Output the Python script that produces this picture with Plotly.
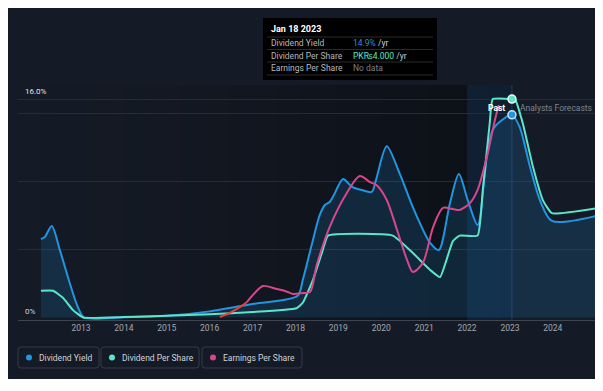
import plotly.graph_objects as go
import pandas as pd

# ---------------- data ----------------
dy_dates = ["2012-01-26", "2012-02-28", "2012-04-27", "2012-07-05", "2012-09-27", "2012-12-05",
            "2013-01-26", "2014-01-01", "2015-01-01", "2016-01-01", "2017-01-01", "2018-01-19",
            "2018-03-04", "2018-05-19", "2018-07-27", "2018-09-09", "2018-10-19", "2018-11-24",
            "2019-02-10", "2019-04-27", "2019-07-20", "2019-10-12", "2019-11-17", "2020-02-17",
            "2020-06-10", "2020-09-27", "2021-02-21", "2021-05-05", "2021-08-08", "2021-10-23",
            "2022-01-08", "2022-04-01", "2022-06-18", "2022-08-08", "2022-10-23", "2023-01-18",
            "2023-03-25", "2023-06-21", "2023-09-13", "2023-12-24", "2025-01-01"]
dy_values = [5.77, 5.92, 6.73, 4.96, 2.54, 0.77,
             0.0, 0.02, 0.12, 0.45, 1.0, 1.6,
             2.76, 5.33, 7.54, 8.27, 8.49, 9.0,
             10.18, 9.6, 9.37, 9.23, 10.1, 12.6,
             10.5, 8.1, 5.48, 4.96, 8.4, 10.55,
             8.6, 6.8, 11.8, 13.8, 14.5, 14.9,
             14.0, 11.07, 8.64, 7.1, 7.46]

dps_dates = ["2012-01-26", "2012-05-08", "2012-07-31", "2012-10-23", "2013-01-19", "2014-01-01",
             "2015-01-01", "2016-01-01", "2017-01-01", "2018-01-10", "2018-03-04", "2018-05-30",
             "2018-08-22", "2018-10-05", "2020-04-08", "2020-09-27", "2021-02-21", "2021-05-16",
             "2021-09-02", "2021-10-30", "2022-04-01", "2022-05-15", "2022-07-13", "2022-08-08",
             "2023-01-18", "2023-02-13", "2023-04-20", "2023-07-16", "2023-10-08", "2023-12-24",
             "2025-01-01"]
dps_values = [0.49, 0.49, 0.36, 0.14, 0.0, 0.01,
              0.03, 0.06, 0.10, 0.17, 0.27, 0.69,
              1.24, 1.5, 1.5, 1.18, 0.87, 0.74,
              1.4, 1.5, 1.5, 2.34, 3.56, 4.0,
              4.0, 4.0, 3.56, 2.76, 2.15, 1.91,
              2.0]

eps_dates = ["2016-03-28", "2016-06-21", "2016-09-17", "2016-11-14", "2017-01-04", "2017-03-29",
             "2017-07-27", "2017-10-05", "2017-12-10", "2018-03-04", "2018-05-05", "2018-07-01",
             "2018-10-19", "2019-03-14", "2019-07-02", "2019-09-28", "2019-11-24", "2020-02-17",
             "2020-05-15", "2020-08-08", "2020-09-27", "2020-12-20", "2021-03-18", "2021-06-10",
             "2021-09-02", "2021-10-30", "2022-01-26", "2022-04-01", "2022-06-18", "2022-08-26",
             "2022-09-28"]
eps_values = [0.03, 0.25, 0.58, 0.85, 1.24, 1.73,
              1.57, 1.46, 1.29, 1.35, 1.40, 2.88,
              4.97, 6.84, 7.77, 7.44, 7.27, 6.46,
              4.81, 3.16, 2.5, 2.99, 4.97, 6.02,
              5.96, 5.91, 6.29, 7.01, 8.82, 10.85,
              11.68]
eps_red_points = 4  # early low-EPS stretch drawn in red

year_ticks = [str(y) for y in range(2013, 2025)]
today = "2023-01-18"
past_start = "2022-01-01"
tooltip_title = "Jan 18 2023"
tooltip_rows = [("Dividend Yield", "14.9%", " /yr"),
                ("Dividend Per Share", "PK₨4.000", " /yr"),
                ("Earnings Per Share", None, "No data")]
legend_items = ["Dividend Yield", "Dividend Per Share", "Earnings Per Share"]

# ---------------- style ----------------
BLUE = "#2394df"
TEAL = "#5ce5c8"
PINK = "#d6478e"
RED = "#ef3b3b"
CARD = "#151b26"
FONT = "Roboto"

# page has an 8px body margin: figure origin sits at screen (8, 8)
OFF = 8
W, H = 595, 383
# plot area in screen pixels
SX0, SX1, SY0, SY1 = 18, 597, 85, 320
L, R, T, B = SX0 - OFF, W - (SX1 - OFF), SY0 - OFF, H - (SY1 - OFF)
PW, PH = W - L - R, H - T - B


def px_x(sx):
    return (sx - SX0) / PW


def px_y(sy):
    return (SY1 - sy) / PH


# y scales: value 0 at screen pixel 317.5
zero_px = 317.5
dy_ppu = 13.6      # px per % yield
dps_ppu = 54.6     # px per PKR dividend
eps_ppu = 18.2     # px per PKR earnings


def yrange(ppu):
    return [-(SY1 - zero_px) / ppu, (zero_px - SY0) / ppu]


def rrect(x0, y0, x1, y1, r):
    pts = [("M", x0 + r, y0), ("L", x1 - r, y0), ("Q", x1, y0, x1, y0 + r), ("L", x1, y1 - r),
           ("Q", x1, y1, x1 - r, y1), ("L", x0 + r, y1), ("Q", x0, y1, x0, y1 - r),
           ("L", x0, y0 + r), ("Q", x0, y0, x0 + r, y0)]
    s = ""
    for p in pts:
        coords = p[1:]
        parts = [f"{px_x(coords[i]):.5f},{px_y(coords[i + 1]):.5f}" for i in range(0, len(coords), 2)]
        s += p[0] + " " + " ".join(parts) + " "
    return s + "Z"


fig = go.Figure()

fig.add_trace(go.Scatter(x=dy_dates, y=dy_values, mode="lines",
                         line=dict(color=BLUE, width=2, shape="spline", smoothing=0.8),
                         fill="tozeroy", fillcolor="rgba(35,148,223,0.17)",
                         hoverinfo="skip", yaxis="y"))
fig.add_trace(go.Scatter(x=dps_dates, y=dps_values, mode="lines",
                         line=dict(color=TEAL, width=2, shape="spline", smoothing=0.4),
                         hoverinfo="skip", yaxis="y2"))
fig.add_trace(go.Scatter(x=eps_dates[:eps_red_points], y=eps_values[:eps_red_points], mode="lines",
                         line=dict(color=RED, width=2, shape="spline", smoothing=0.8),
                         hoverinfo="skip", yaxis="y3"))
fig.add_trace(go.Scatter(x=eps_dates[eps_red_points - 1:], y=eps_values[eps_red_points - 1:], mode="lines",
                         line=dict(color=PINK, width=2, shape="spline", smoothing=0.8),
                         hoverinfo="skip", yaxis="y3"))
i_dy = dy_dates.index(today)
i_dps = dps_dates.index(today)
fig.add_trace(go.Scatter(x=[today], y=[dy_values[i_dy]], mode="markers",
                         marker=dict(color=BLUE, size=8, line=dict(color="#bfe2ff", width=1.5)),
                         hoverinfo="skip", yaxis="y"))
fig.add_trace(go.Scatter(x=[today], y=[dps_values[i_dps]], mode="markers",
                         marker=dict(color=TEAL, size=8, line=dict(color="#e6fff9", width=1.5)),
                         hoverinfo="skip", yaxis="y2"))

shapes = []
shapes.append(dict(type="rect", xref="paper", yref="paper", x0=px_x(OFF - 2), x1=px_x(601),
                   y0=px_y(379), y1=px_y(OFF - 2), fillcolor=CARD, line=dict(width=0), layer="below"))
n = 40
edges = pd.date_range(dy_dates[0], today, periods=n + 1)
for k in range(n):
    op = 0.42 * ((k + 0.5) / n) ** 1.2
    shapes.append(dict(type="rect", xref="x", yref="paper",
                       x0=edges[k].strftime("%Y-%m-%d"), x1=edges[k + 1].strftime("%Y-%m-%d"),
                       y0=0, y1=1, fillcolor=f"rgba(0,0,0,{op:.3f})", line=dict(width=0), layer="below"))
shapes.append(dict(type="rect", xref="x", yref="paper", x0=past_start, x1=today, y0=0, y1=1,
                   fillcolor="rgba(40,115,185,0.16)", line=dict(width=0), layer="below"))
shapes.append(dict(type="line", xref="x", yref="paper", x0=today, x1=today, y0=0, y1=1,
                   line=dict(color="rgba(70,120,170,0.35)", width=1), layer="below"))

boxes = [(18, 99), (101, 199), (202, 302)]
leg_colors = [BLUE, TEAL, PINK]
annotations = []
for (bx0, bx1), col, name in zip(boxes, leg_colors, legend_items):
    shapes.append(dict(type="path", xref="paper", yref="paper", path=rrect(bx0, 347, bx1, 368, 3),
                       fillcolor=CARD, line=dict(color="#363c47", width=1), layer="below"))
    cx, cy = bx0 + 11, 357.5
    shapes.append(dict(type="circle", xref="paper", yref="paper", x0=px_x(cx - 3), x1=px_x(cx + 3),
                       y0=px_y(cy + 3), y1=px_y(cy - 3), fillcolor=col, line=dict(width=0), layer="below"))
    annotations.append(dict(text=name, xref="paper", yref="paper", x=px_x(bx0 + 19), y=px_y(cy),
                            xanchor="left", yanchor="middle", showarrow=False,
                            font=dict(family=FONT, size=8.5, color="#cfd2d7")))

shapes.append(dict(type="rect", xref="paper", yref="paper", x0=px_x(263), x1=px_x(437),
                   y0=px_y(80), y1=px_y(18), fillcolor="#000000", line=dict(width=0), layer="below"))
for ly in [37, 49.5, 62, 75]:
    shapes.append(dict(type="line", xref="paper", yref="paper", x0=px_x(267), x1=px_x(433),
                       y0=px_y(ly), y1=px_y(ly), line=dict(color="#2b2b2b", width=1), layer="below"))
annotations.append(dict(text="<b>" + tooltip_title + "</b>", xref="paper", yref="paper",
                        x=px_x(269), y=px_y(29), xanchor="left", yanchor="middle", showarrow=False,
                        font=dict(family=FONT, size=9, color="#ffffff")))
val_colors = [BLUE, TEAL, None]
for j, ((lab, val, suf), vc) in enumerate(zip(tooltip_rows, val_colors)):
    ry = 43.3 + j * 12.5
    annotations.append(dict(text=lab, xref="paper", yref="paper", x=px_x(269), y=px_y(ry),
                            xanchor="left", yanchor="middle", showarrow=False,
                            font=dict(family=FONT, size=8.5, color="#b4b8be")))
    if val is not None:
        txt = f"<span style='color:{vc}'>{val}</span><span style='color:#c9ccd1'>{suf}</span>"
    else:
        txt = f"<span style='color:#7c8189'>{suf}</span>"
    annotations.append(dict(text=txt, xref="paper", yref="paper", x=px_x(351), y=px_y(ry),
                            xanchor="left", yanchor="middle", showarrow=False,
                            font=dict(family=FONT, size=8.5, color="#c9ccd1")))

annotations.append(dict(text="16.0%", xref="paper", yref="paper", x=px_x(23), y=px_y(91),
                        xanchor="left", yanchor="middle", showarrow=False,
                        font=dict(family=FONT, size=8, color="#e2e4e7")))
annotations.append(dict(text="0%", xref="paper", yref="paper", x=px_x(23), y=px_y(311),
                        xanchor="left", yanchor="middle", showarrow=False,
                        font=dict(family=FONT, size=8, color="#cfd2d6")))
annotations.append(dict(text="<b>Past</b>", xref="x", yref="paper", x=today, y=px_y(107.5),
                        xanchor="right", yanchor="middle", xshift=-5, showarrow=False,
                        font=dict(family=FONT, size=8.5, color="#ffffff")))
annotations.append(dict(text="Analysts Forecasts", xref="x", yref="paper", x=today, y=px_y(107.5),
                        xanchor="left", yanchor="middle", xshift=6, showarrow=False,
                        font=dict(family=FONT, size=8.5, color="#7e848d")))

x_lo = pd.Timestamp("2013-01-01") - pd.Timedelta(days=(81 - SX0) / 42.9 * 365.25)
x_hi = pd.Timestamp("2013-01-01") + pd.Timedelta(days=(SX1 - 81) / 42.9 * 365.25)

fig.update_layout(
    width=W, height=H,
    margin=dict(l=L, r=R, t=T, b=B, pad=0),
    paper_bgcolor="white", plot_bgcolor="rgba(0,0,0,0)",
    showlegend=False,
    font=dict(family=FONT),
    xaxis=dict(type="date", range=[x_lo, x_hi], showgrid=False, zeroline=False,
               tickvals=[f"{y}-01-01" for y in year_ticks], ticktext=year_ticks,
               showline=True, linecolor="#3f4550", linewidth=1, ticks="",
               tickfont=dict(family=FONT, size=8.5, color="#a3a8b0"), fixedrange=True),
    yaxis=dict(range=yrange(dy_ppu), tickvals=[5, 10, 15, 16], showticklabels=False,
               showgrid=True, gridcolor="#262c37", gridwidth=1, zeroline=False, fixedrange=True),
    yaxis2=dict(range=yrange(dps_ppu), overlaying="y", visible=False, fixedrange=True),
    yaxis3=dict(range=yrange(eps_ppu), overlaying="y", visible=False, fixedrange=True),
    shapes=shapes,
    annotations=annotations,
)

fig.write_html("out.html")
